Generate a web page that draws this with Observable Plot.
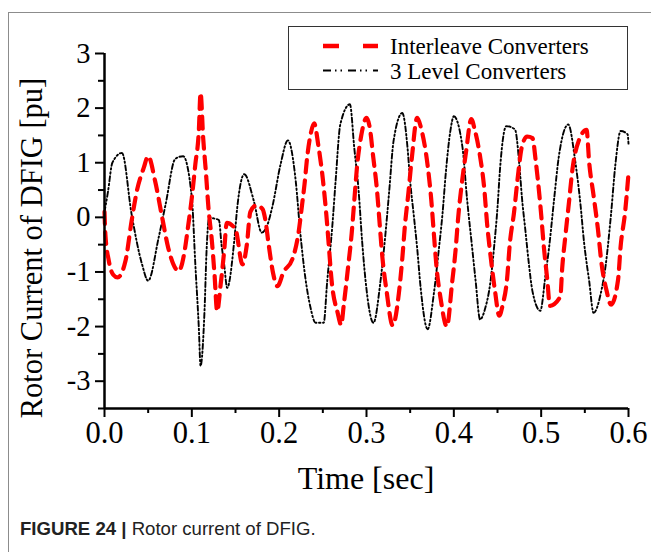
<!DOCTYPE html>
<html><head><meta charset="utf-8">
<script src="https://cdn.jsdelivr.net/npm/d3@7"></script>
<script src="https://cdn.jsdelivr.net/npm/@observablehq/plot@0.6"></script>
<style>
body{margin:0;background:#fff;}
#wrap{position:relative;width:651px;height:552px;overflow:hidden;background:#fff;}
#frame{position:absolute;left:8px;top:12px;width:700px;height:600px;border-left:1.5px solid #8c8c8c;border-top:1.5px solid #8c8c8c;}
#chart{position:absolute;left:0;top:0;}
#legend{position:absolute;left:288px;top:26px;width:338px;height:62px;border:1.5px solid #333;background:#fff;}
.ttl{position:absolute;font-family:"Liberation Serif",serif;color:#000;white-space:nowrap;transform-origin:50% 50%;}
#caption{position:absolute;left:20px;top:518px;font-family:"Liberation Sans",Arial,sans-serif;font-size:18.6px;color:#222;white-space:nowrap;}
</style></head>
<body>
<div id="wrap">
  <div id="frame"></div>
  <div id="chart"></div>
  <div id="legend"></div>
  <div class="ttl" id="xtitle" style="left:366px;top:478px;font-size:32px;transform:translate(-50%,-50%);">Time [sec]</div>
  <div class="ttl" id="ytitle" style="left:32px;top:248px;font-size:30.5px;transform:translate(-50%,-50%) rotate(-90deg);">Rotor Current of DFIG [pu]</div>
  <div id="caption"><b>FIGURE 24 |</b> Rotor current of DFIG.</div>
</div>
<script>
const seriesNames = ["Interleave Converters", "3 Level Converters"];

const tInterleave = [0,0.001,0.005,0.01,0.015,0.024,0.031,0.037,0.045,0.05,0.058,0.066,0.073,0.085,0.092,0.095,0.1,0.104,0.108,0.11,0.113,0.116,0.119,0.123,0.126,0.129,0.133,0.137,0.14,0.15,0.158,0.163,0.167,0.174,0.181,0.184,0.188,0.193,0.198,0.205,0.215,0.222,0.226,0.229,0.232,0.236,0.24,0.245,0.25,0.254,0.257,0.26,0.267,0.271,0.274,0.279,0.283,0.286,0.289,0.294,0.3,0.305,0.307,0.312,0.315,0.318,0.323,0.33,0.337,0.341,0.344,0.348,0.352,0.358,0.363,0.37,0.374,0.377,0.38,0.385,0.392,0.398,0.402,0.405,0.409,0.414,0.42,0.424,0.43,0.435,0.438,0.442,0.447,0.452,0.456,0.461,0.464,0.469,0.473,0.478,0.484,0.49,0.494,0.498,0.5,0.503,0.507,0.51,0.522,0.524,0.528,0.532,0.536,0.543,0.552,0.555,0.56,0.565,0.569,0.575,0.58,0.588,0.591,0.596,0.6];
const iInterleave = [0.1,-0.31,-0.8,-1.05,-1.1,-0.8,-0.07,0.48,0.91,1.12,0.66,0.0,-0.56,-0.98,-0.59,-0.25,0.36,0.97,1.58,2.28,1.45,0.85,0.18,-0.44,-1.05,-1.72,-1.23,-0.62,-0.1,-0.22,-0.86,-0.5,0.1,0.22,0.15,-0.03,-0.5,-1.02,-1.26,-1.0,-0.77,-0.3,0.2,0.6,1.09,1.52,1.72,1.3,0.7,0.05,-0.55,-1.15,-1.75,-1.97,-1.6,-0.9,-0.3,0.3,0.9,1.5,1.82,1.5,1.2,0.5,-0.1,-0.7,-1.35,-1.98,-1.4,-0.75,-0.15,0.45,1.1,1.82,1.6,0.95,0.35,-0.27,-0.88,-1.5,-2.0,-1.2,-0.6,0.0,0.6,1.2,1.8,1.6,1.12,0.5,-0.1,-0.7,-1.33,-1.8,-1.6,-1.12,-0.5,0.1,0.7,1.3,1.48,1.45,1.0,0.4,0.05,-0.53,-1.14,-1.62,-1.45,-0.95,-0.3,0.3,0.9,1.4,1.6,1.0,0.4,-0.22,-0.83,-1.35,-1.6,-1.15,-0.53,0.08,0.8];

const t3Level = [0,0.004,0.009,0.02,0.031,0.043,0.05,0.062,0.07,0.081,0.09,0.1,0.104,0.108,0.11,0.1145,0.117,0.12,0.125,0.131,0.134,0.137,0.1405,0.1485,0.152,0.16,0.171,0.18,0.186,0.192,0.2016,0.21,0.219,0.224,0.23,0.236,0.2416,0.251,0.255,0.261,0.2646,0.27,0.281,0.286,0.291,0.295,0.299,0.308,0.316,0.322,0.326,0.331,0.341,0.347,0.35,0.354,0.358,0.362,0.37,0.377,0.383,0.387,0.391,0.396,0.4,0.41,0.415,0.421,0.425,0.43,0.436,0.442,0.446,0.45,0.453,0.46,0.47,0.475,0.478,0.482,0.486,0.49,0.499,0.505,0.509,0.515,0.52,0.531,0.539,0.545,0.549,0.555,0.56,0.568,0.574,0.58,0.585,0.591,0.599,0.6];
const i3Level = [0.1,0.47,1.0,1.18,0.06,-0.86,-1.16,-0.37,0.24,1.07,1.12,0.36,-0.86,-2.02,-2.72,-1.72,-0.56,0.0,-0.02,-0.05,-0.5,-0.86,-1.29,-0.44,0.18,0.79,0.3,-0.28,-0.16,0.18,0.97,1.41,0.66,-0.25,-1.11,-1.66,-1.93,-1.93,-1.17,-0.13,0.66,1.7,2.07,1.27,0.48,-0.44,-1.17,-1.93,-1.17,-0.25,0.48,1.4,1.91,1.27,0.66,0.06,-0.56,-1.29,-2.05,-1.41,-0.56,0.06,0.85,1.58,1.85,1.27,0.36,-0.56,-1.17,-1.87,-1.66,-1.17,-0.56,0.18,0.91,1.67,1.61,0.97,0.36,-0.25,-0.86,-1.35,-1.71,-1.05,-0.56,0.36,1.09,1.7,1.03,0.24,-0.44,-1.17,-1.75,-1.41,-0.86,0.06,0.97,1.58,1.52,1.35];

const xTicks = [0,0.1,0.2,0.3,0.4,0.5,0.6];
const xMinorTicks = [0.05,0.15,0.25,0.35,0.45,0.55];
const yTicks = [-3,-2,-1,0,1,2,3];
const yMinorTicks = [-3.5,-2.5,-1.5,-0.5,0.5,1.5,2.5];

const interleave = tInterleave.map((t,i)=>({t, v:iInterleave[i]}));
const level3 = t3Level.map((t,i)=>({t, v:i3Level[i]}));

const serif = '"Liberation Serif","Times New Roman",serif';
const chart = Plot.plot({
  width: 651, height: 470,
  marginLeft: 104, marginRight: 23, marginTop: 53, marginBottom: 62,
  style: {fontFamily: serif, background: "transparent", color: "#000", overflow: "visible"},
  x: {domain: [0, 0.6]},
  y: {domain: [-3.5, 3]},
  marks: [
    Plot.line(level3, {x:"t", y:"v", stroke:"#000", strokeWidth:1.9, strokeDasharray:"5,2.5,1.5,2.5,1.5,2.5", curve:"monotone-x"}),
    Plot.line(interleave, {x:"t", y:"v", stroke:"#ff0000", strokeWidth:4.2, strokeDasharray:"12,8", curve:"monotone-x"}),
    Plot.axisX({ticks: xMinorTicks, tickSize: 5, tickFormat: null, text: null, label: null, strokeWidth: 2}),
    Plot.axisX({ticks: xTicks, tickSize: 9, tickPadding: 4, tickFormat: d => d.toFixed(1), label: null, fontSize: 30.5, strokeWidth: 2}),
    Plot.axisY({ticks: yMinorTicks, tickSize: 6, text: null, label: null, strokeWidth: 2}),
    Plot.axisY({ticks: yTicks, tickSize: 9, tickPadding: 5, tickFormat: d => String(d), label: null, fontSize: 28.5, strokeWidth: 2}),
    Plot.ruleX([0], {stroke:"#000", strokeWidth: 2.5}),
    Plot.ruleY([-3.5], {stroke:"#000", strokeWidth: 2.5})
  ]
});
document.getElementById("chart").appendChild(chart);

// legend
const leg = d3.select("#legend").append("svg").attr("width", 338).attr("height", 62);
const rows = [
  {name: seriesNames[0], stroke:"#ff0000", w:4.5, dash:"16,24"},
  {name: seriesNames[1], stroke:"#000", w:1.9, dash:"8,4,1.5,4,1.5,6"}
];
rows.forEach((r,i)=>{
  const y = 19 + i*24.5;
  leg.append("line").attr("x1",34).attr("x2",89).attr("y1",y).attr("y2",y)
    .attr("stroke",r.stroke).attr("stroke-width",r.w).attr("stroke-dasharray",r.dash);
  leg.append("text").attr("x",101).attr("y",y).attr("dy","0.35em")
    .attr("font-family",serif).attr("font-size",23).attr("fill","#000").text(r.name);
});
</script>
</body></html>
